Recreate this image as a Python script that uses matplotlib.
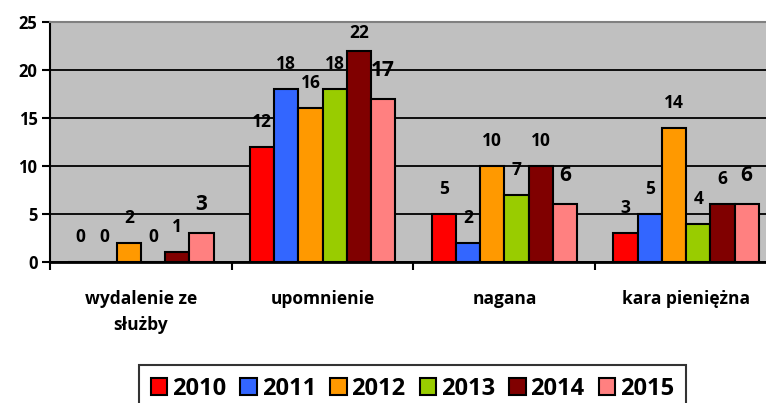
import numpy as np
from matplotlib import pyplot as plt

plt.rcParams['font.family'] = ['Open Sans', 'DejaVu Sans']
plt.rcParams['font.weight'] = 'bold'

kategorie = ["wydalenie ze\nsłużby", "upomnienie", "nagana", "kara pieniężna"]
lata = ["2010", "2011", "2012", "2013", "2014", "2015"]
v2010 = [0, 12, 5, 3]
v2011 = [0, 18, 2, 5]
v2012 = [2, 16, 10, 14]
v2013 = [0, 18, 7, 4]
v2014 = [1, 22, 10, 6]
v2015 = [3, 17, 6, 6]
serie = [v2010, v2011, v2012, v2013, v2014, v2015]
kolory = ["#FF0000", "#3366FF", "#FF9900", "#99CC00", "#800000", "#FF8080"]

fig = plt.figure(figsize=(7.66, 4.03), dpi=100)
ax = fig.add_axes([0.0653, 0.3499, 0.949, 0.5955])
ax.set_facecolor("#C0C0C0")

x = np.arange(len(kategorie))
w = 0.8 / len(serie)
for i, (vals, col, lab) in enumerate(zip(serie, kolory, lata)):
    pos = x + (i - 2.5) * w
    ax.bar(pos, vals, w, color=col, edgecolor="black", linewidth=1.5, label=lab, zorder=3)
    # etykiety nad słupkami (2015 trochę większe, jak w oryginale)
    for px, v in zip(pos, vals):
        if lab == "2015":
            ax.text(px, min(v + 3.0, 23.85), str(v), ha="center", va="center",
                    fontsize=15, fontweight="bold", zorder=4)
        else:
            ax.text(px, min(v + 2.6, 23.85), str(v), ha="center", va="center",
                    fontsize=12.5, fontweight="bold", zorder=4)

ax.set_ylim(0, 25)
ax.set_xlim(-0.5, 3.5)
ax.set_yticks(np.arange(0, 26, 5))
ax.yaxis.grid(True, color="black", linewidth=1.3, zorder=1)
ax.set_axisbelow(True)

# podziałka: kreski na granicach kategorii, podpisy pośrodku
ax.set_xticks(np.arange(-0.5, 3.6, 1.0))
ax.set_xticklabels([])
ax.set_xticks(x, minor=True)
ax.set_xticklabels(kategorie, minor=True, fontsize=12.5, fontweight="bold", linespacing=1.6)
ax.tick_params(axis="x", which="minor", length=0, pad=20)
ax.tick_params(axis="x", which="major", length=6, width=1.5, color="black")
ax.tick_params(axis="y", length=6, width=1.5, labelsize=12, pad=3)
for t in ax.get_yticklabels():
    t.set_fontweight("bold")

ax.spines["top"].set_color("#808080")
ax.spines["top"].set_linewidth(1.5)
ax.spines["right"].set_visible(False)
ax.spines["left"].set_linewidth(1.5)
ax.spines["bottom"].set_linewidth(2)

leg = fig.legend(loc="upper center", bbox_to_anchor=(0.5385, 0.0943), ncol=6,
                 fontsize=17, frameon=True, fancybox=False, edgecolor="black",
                 handlelength=0.7, handleheight=0.7, handletextpad=0.2,
                 columnspacing=0.6, borderpad=0.5, borderaxespad=0)
leg.get_frame().set_linewidth(1.5)
for t in leg.get_texts():
    t.set_fontweight("bold")

fig.savefig("out.png", dpi=100)
